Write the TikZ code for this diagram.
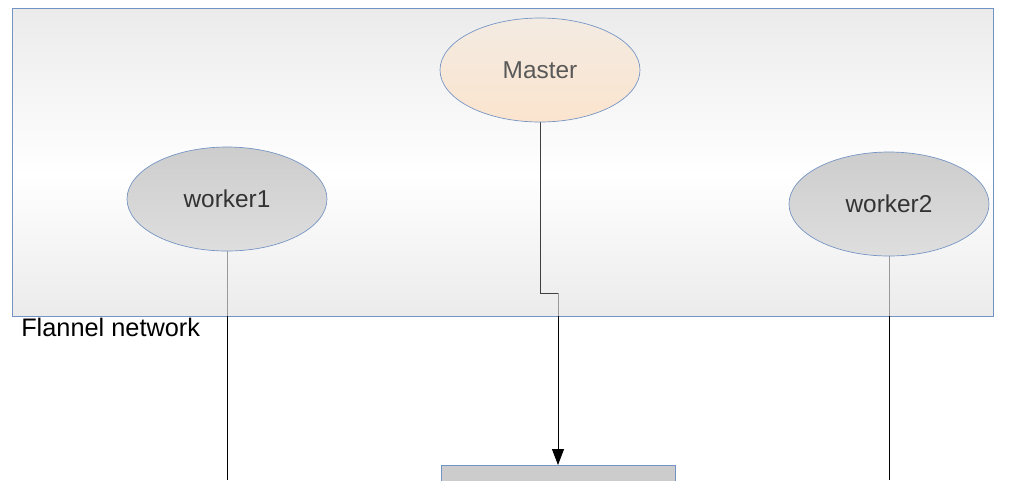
\documentclass[tikz,border=0pt]{standalone}
\usepackage{fontspec}
\setmainfont{Liberation Sans}
\usetikzlibrary{shapes.geometric,arrows.meta}
\definecolor{edge}{HTML}{7393C4}
\definecolor{mastertop}{HTML}{F3EBE2}
\definecolor{masterbot}{HTML}{FBE4CE}
\definecolor{hosttop}{HTML}{CDCDCD}
\definecolor{hostbot}{HTML}{DEDEDE}
\definecolor{netgray}{HTML}{EBEBEB}
\pgfdeclarelayer{back}
\pgfsetlayers{back,main}

\begin{document}
\begin{tikzpicture}[x=0.75pt, y=-0.75pt,
  host/.style={ellipse, draw=edge, line width=0.5pt, inner sep=0pt,
    minimum width=150pt, minimum height=78pt,
    top color=hosttop, bottom color=hostbot, text=black!80,
    font=\fontsize{18.3}{21}\selectfont},
  boss/.style={host, top color=mastertop, bottom color=masterbot, text=black!65},
  wire/.style={line width=0.6pt, black},
  inwire/.style={wire, black!40}]
  \useasboundingbox (0,0) rectangle (1010,480);

  \node[boss] (master)  at (540,70)  {Master};
  \node[host] (worker1) at (227,199) {worker1};
  \node[host] (worker2) at (889,204) {worker2};
  \node[draw=edge, fill=black!20, anchor=north, inner sep=0pt,
        minimum width=175.5pt, minimum height=30pt] (store) at (558,465) {};
  \node[anchor=base west, inner sep=0pt, font=\fontsize{19}{22}\selectfont]
        (flannel) at (21,336) {Flannel network};
  \coordinate (floor) at (0,480);
  \coordinate (step) at (558,293);

  \begin{pgfonlayer}{back}
    \shade[top color=netgray, bottom color=white] (12,8) rectangle (993,175);
    \shade[top color=white, bottom color=netgray] (12,175) rectangle (993,316);
    \draw[edge, line width=0.5pt] (12,8) rectangle (993,316);
    \coordinate (rim) at (0,316);
    \draw[inwire] (worker1.south) -- (worker1.south |- rim);
    \draw[inwire] (worker2.south) -- (worker2.south |- rim);
    \draw[inwire, black!75] (master.south) |- (step);
    \draw[inwire] (step) -- (step |- rim);
  \end{pgfonlayer}

  \draw[wire] (worker1.south |- rim) -- (worker1.south |- floor);
  \draw[wire] (worker2.south |- rim) -- (worker2.south |- floor);
  \draw[wire, -{Triangle[length=12pt, width=9pt]}]
    (step |- rim) -- (store.north);
\end{tikzpicture}
\end{document}
